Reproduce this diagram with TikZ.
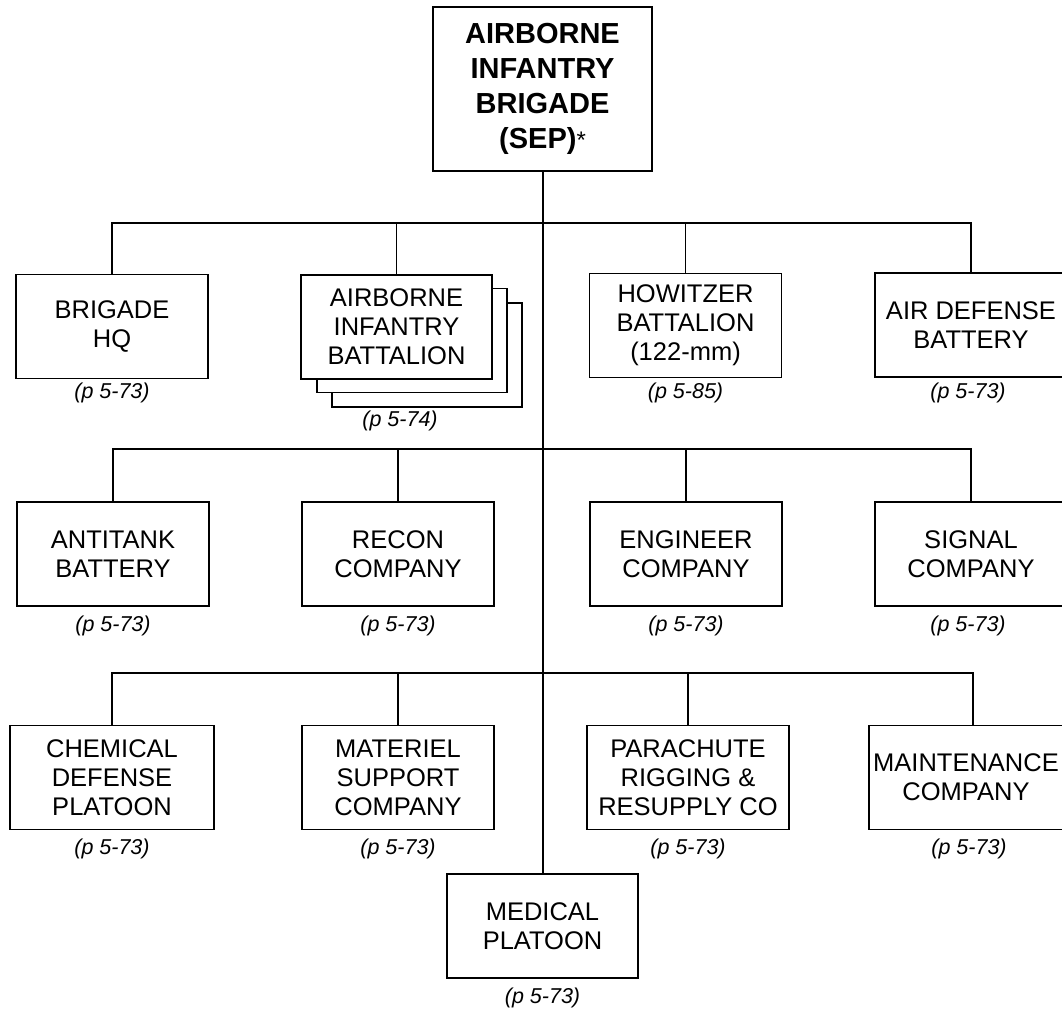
\documentclass[tikz,border=0pt]{standalone}
\usepackage{fontspec}
\setmainfont{Liberation Sans}
\begin{document}
\begin{tikzpicture}[x=1pt,y=-1pt,
  line width=1.4pt,
  boxtext/.style={inner sep=0pt, align=center, font=\fontsize{25.5}{29}\selectfont},
  box/.style={boxtext, draw, fill=white, rectangle,
    minimum width=192pt, minimum height=104pt},
  ref/.style={inner sep=0pt, font=\fontsize{21.5}{24}\selectfont\itshape}]
\useasboundingbox (0,0) rectangle (1062,1013);
\clip (0,0) rectangle (1062,1013);
% top
\node[draw, fill=white, inner sep=0pt, minimum width=219pt, minimum height=164pt, align=center,
  font=\fontsize{29}{35}\selectfont\bfseries] (top) at (542.5,89)
  {AIRBORNE\\INFANTRY\\BRIGADE\\(SEP){\mdseries\fontsize{24}{24}\selectfont *}};
% junctions on trunk
\coordinate (b1) at (543,223);
\coordinate (b2) at (543,449);
\coordinate (b3) at (543,673);
% row 1
\node[box] (hq) at (112,326.5) {BRIGADE\\HQ};
\node[box, minimum width=190pt] (bat3) at (427,355) {};
\node[box, minimum width=190pt] (bat2) at (412,340.5) {};
\node[box, minimum width=191pt] (bat) at (396.5,327) {AIRBORNE\\INFANTRY\\BATTALION};
\node[box] (how) at (685.5,325.5) {HOWITZER\\BATTALION\\(122-mm)};
\node[box] (ad) at (971,325) {AIR DEFENSE\\BATTERY};
\node[ref] (hqr) at (hq.center |- 0,393) {(p 5-73)};
\node[ref] (batr) at (400,421) {(p 5-74)};
\node[ref] (howr) at (how.center |- 0,393) {(p 5-85)};
\node[ref] (adr) at (968,393) {(p 5-73)};
% row 2
\node[box] (at) at (113,554) {ANTITANK\\BATTERY};
\node[box] (rc) at (398,554) {RECON\\COMPANY};
\node[box] (en) at (686,554) {ENGINEER\\COMPANY};
\node[box] (sg) at (971,554) {SIGNAL\\COMPANY};
\node[ref] (atr) at (at.center |- 0,626) {(p 5-73)};
\node[ref] (rcr) at (rc.center |- 0,626) {(p 5-73)};
\node[ref] (enr) at (en.center |- 0,626) {(p 5-73)};
\node[ref] (sgr) at (968,626) {(p 5-73)};
% row 3
\node[box, minimum width=204pt] (ch) at (112,777.5) {CHEMICAL\\DEFENSE\\PLATOON};
\node[box] (ms) at (398,777.5) {MATERIEL\\SUPPORT\\COMPANY};
\node[box, minimum width=202pt] (pr) at (688,777.5) {PARACHUTE\\RIGGING \&\\RESUPPLY CO};
\node[box, minimum width=208pt] (mt) at (973,777.5) {};
\node[boxtext] (mtt) at (966,777.5) {MAINTENANCE\\COMPANY};
\node[ref] (chr) at (ch.center |- 0,849) {(p 5-73)};
\node[ref] (msr) at (ms.center |- 0,849) {(p 5-73)};
\node[ref] (prr) at (pr.center |- 0,849) {(p 5-73)};
\node[ref] (mtr) at (969,849) {(p 5-73)};
% medical
\node[box, minimum width=191pt] (md) at (542.5,926) {MEDICAL\\PLATOON};
\node[ref] (mdr) at (md.center |- 0,998) {(p 5-73)};
% connectors
\draw (top.south -| b1) -- (md.north -| b1);
\draw (hq.north) |- (b1) -| (ad.north);
\draw (bat.north) -- (bat.north |- b1);
\draw (how.north) -- (how.north |- b1);
\draw (at.north) |- (b2) -| (sg.north);
\draw (rc.north) -- (rc.north |- b2);
\draw (en.north) -- (en.north |- b2);
\draw (ch.north) |- (b3) -| (mt.north);
\draw (ms.north) -- (ms.north |- b3);
\draw (pr.north) -- (pr.north |- b3);
\end{tikzpicture}
\end{document}
